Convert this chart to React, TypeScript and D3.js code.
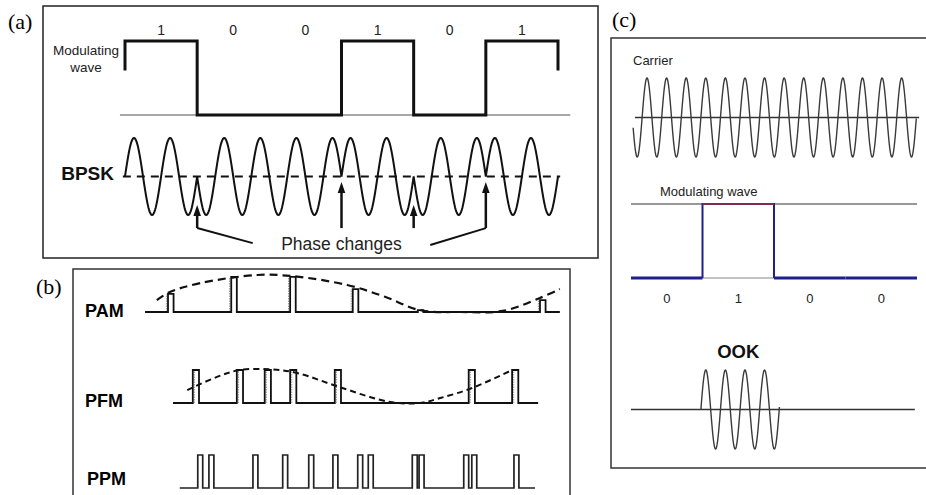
import React from "react";
import * as d3 from "d3";

const W = 926;
const H = 495;

// ---------- (a) BPSK ----------
const bpskBits = [1, 0, 0, 1, 0, 1];
const bpskCyclesPerBit = 2;
const bpskLabel = "BPSK";
const modLabelA = ["Modulating", "wave"];
const phaseLabel = "Phase changes";

// ---------- (b) pulse modulation ----------
// time in sampling periods, amplitude normalised to the envelope peak
const pamPulseTimes = [0, 1.02, 1.97, 2.98, 4.03, 5.0, 6.0];
const pamPulseAmps = [0.49, 0.95, 0.95, 0.62, 0.05, 0, 0.32];
const pamSpan = [-0.37, 6.32];
const pamEnvelope: [number, number][] = [
  [-0.18, 0.32], [0.03, 0.54], [0.52, 0.78], [1.44, 1.0], [2.0, 0.97],
  [2.89, 0.73], [3.5, 0.41], [4.06, 0.05], [4.71, 0], [5.4, 0.03],
  [6.0, 0.38], [6.32, 0.62],
];

const pfmPulseTimes = [0.4, 1.11, 1.56, 1.97, 2.69, 4.85, 5.55];
const pfmSpan = [0.08, 5.97];
const pfmEnvelope: [number, number][] = [
  [0.31, 0.39], [0.79, 0.79], [1.16, 1.0], [1.65, 1.02], [2.08, 0.91],
  [2.77, 0.48], [3.58, 0.03], [4.06, 0], [4.39, 0.15], [4.9, 0.45],
  [5.55, 1.0],
];

const ppmPulseTimes = [0.48, 0.66, 1.37, 1.85, 2.27, 2.66, 3.06, 3.23, 3.94, 4.05, 4.77, 4.9, 5.58];
const ppmSpan = [0.19, 5.92];

const rowLabelsB = ["PAM", "PFM", "PPM"];

// ---------- (c) OOK ----------
const ookBits = [0, 1, 0, 0];
const carrierCyclesPerBit = 3.65;
const carrierPeakAt = 0.224; // bit units
const carrierSpan = [0.03, 3.99];
const ookGate = [0.98, 2.08];

type P = [number, number];

function pulseTrain(span: number[], times: number[], amps: number[], w: number): P[] {
  const pts: P[] = [[span[0], 0]];
  times.forEach((t, i) => {
    pts.push([t, 0], [t, amps[i]], [t + w, amps[i]], [t + w, 0]);
  });
  pts.push([span[1], 0]);
  return pts;
}

const FONT = "'Liberation Sans', Arial, sans-serif";
const SERIF = "'Liberation Serif', 'Times New Roman', serif";

export default function App() {
  // ===== panel (a) =====
  const xa = d3.scaleLinear().domain([0, 6]).range([125, 558]);
  const yMod = d3.scaleLinear().domain([0, 1]).range([115, 41]);
  const yB = d3.scaleLinear().domain([-1, 1]).range([215, 138]);

  const modPts: P[] = [[0, 0.6]];
  bpskBits.forEach((b, i) => modPts.push([i, b], [i + 1, b]));
  modPts.push([bpskBits.length, 0.6]);
  const modLine = d3.line<P>().x(d => xa(d[0])).y(d => yMod(d[1]));

  const bpskPts: P[] = [];
  bpskBits.forEach((b, i) => {
    d3.range(0, 121).forEach(k => {
      const t = i + k / 120;
      bpskPts.push([t, (b ? 1 : -1) * Math.sin(2 * Math.PI * bpskCyclesPerBit * t)]);
    });
  });
  const bpskLine = d3.line<P>().x(d => xa(d[0])).y(d => yB(d[1]));

  const changes = d3.range(1, bpskBits.length).filter(i => bpskBits[i] !== bpskBits[i - 1]);
  const shaftEnd = yB(-1.34);
  const first = changes[0];
  const last = changes[changes.length - 1];

  // ===== panel (b) =====
  const xb = d3.scaleLinear().domain([0, 6]).range([168, 540]);
  const yPam = d3.scaleLinear().domain([0, 1]).range([312, 275]);
  const yPfm = d3.scaleLinear().domain([0, 1]).range([403, 370]);
  const yPpm = d3.scaleLinear().domain([0, 1]).range([488, 455]);

  const pamLine = d3.line<P>().x(d => xb(d[0])).y(d => yPam(d[1]));
  const pfmLine = d3.line<P>().x(d => xb(d[0])).y(d => yPfm(d[1]));
  const ppmLine = d3.line<P>().x(d => xb(d[0])).y(d => yPpm(d[1]));
  const pamEnv = d3.line<P>().curve(d3.curveCatmullRom.alpha(0.5)).x(d => xb(d[0])).y(d => yPam(d[1]));
  const pfmEnv = d3.line<P>().curve(d3.curveCatmullRom.alpha(0.5)).x(d => xb(d[0])).y(d => yPfm(d[1]));

  const pamPts = pulseTrain(pamSpan, pamPulseTimes, pamPulseAmps, 0.09);
  const pfmPts = pulseTrain(pfmSpan, pfmPulseTimes, pfmPulseTimes.map(() => 1), 0.1);
  const ppmPts = pulseTrain(ppmSpan, ppmPulseTimes, ppmPulseTimes.map(() => 1), 0.08);

  // ===== panel (c) =====
  const xc = d3.scaleLinear().domain([0, 4]).range([631, 917]);
  const yCar = d3.scaleLinear().domain([-1, 1]).range([157, 78]);
  const yModC = d3.scaleLinear().domain([0, 1]).range([278, 204]);
  const yOok = d3.scaleLinear().domain([-1, 1]).range([449, 370]);
  const carrier = (t: number) => Math.cos(2 * Math.PI * carrierCyclesPerBit * (t - carrierPeakAt));

  const carPts: P[] = d3.range(carrierSpan[0], carrierSpan[1], 0.004).map(t => [t, carrier(t)] as P);
  const carLine = d3.line<P>().x(d => xc(d[0])).y(d => yCar(d[1]));
  const ookPts: P[] = ([[ookGate[0], 0]] as P[]).concat(
    d3.range(ookGate[0], ookGate[1], 0.004).map(t => [t, carrier(t)] as P)
  );
  const ookLine = d3.line<P>().x(d => xc(d[0])).y(d => yOok(d[1]));

  const oneIdx = ookBits.indexOf(1);

  return (
    <svg width={W} height={H} style={{ position: "absolute", left: 0, top: 0, background: "#fff" }}
      xmlns="http://www.w3.org/2000/svg">
      <rect x={0} y={0} width={W} height={H} fill="#fff" />

      {/* ---------------- (a) ---------------- */}
      <text x={8} y={29} fontFamily={SERIF} fontSize={22}>(a)</text>
      <rect x={43} y={6} width={555} height={252} fill="none" stroke="#222" strokeWidth={1.5} />
      {bpskBits.map((b, i) => (
        <text key={i} x={xa(i + 0.5)} y={35} textAnchor="middle" fontFamily={FONT} fontSize={14} fill="#222">{b}</text>
      ))}
      <text x={86} y={55} textAnchor="middle" fontFamily={FONT} fontSize={13.5} fill="#222">{modLabelA[0]}</text>
      <text x={86} y={72} textAnchor="middle" fontFamily={FONT} fontSize={13.5} fill="#222">{modLabelA[1]}</text>
      <line x1={xa(-0.07)} x2={xa(6.17)} y1={yMod(0)} y2={yMod(0)} stroke="#8a8a8a" strokeWidth={1.3} />
      <path d={modLine(modPts) || ""} fill="none" stroke="#111" strokeWidth={3} strokeLinejoin="miter" />

      <text x={114} y={180} textAnchor="end" fontFamily={FONT} fontWeight="bold" fontSize={19} fill="#111">{bpskLabel}</text>
      <line x1={xa(-0.03)} x2={xa(6.03)} y1={yB(0)} y2={yB(0)} stroke="#111" strokeWidth={2} strokeDasharray="8,6" />
      <path d={bpskLine(bpskPts) || ""} fill="none" stroke="#111" strokeWidth={2} />

      {changes.map(i => {
        const x = xa(i);
        const tip = yB(bpskBits[i] ? -0.14 : -0.74);
        return (
          <g key={i}>
            <line x1={x} x2={x} y1={tip + 8} y2={shaftEnd} stroke="#111" strokeWidth={2.5} />
            <path d={`M${x},${tip}L${x - 3.8},${tip + 11}L${x + 3.8},${tip + 11}Z`} fill="#111" />
          </g>
        );
      })}
      <path d={`M${xa(first)},${shaftEnd}L${xa(1.77)},${yB(-1.73)}`} stroke="#111" strokeWidth={2} fill="none" />
      <path d={`M${xa(last)},${shaftEnd}L${xa(4.23)},${yB(-1.78)}`} stroke="#111" strokeWidth={2} fill="none" />
      <text x={xa(3)} y={yB(-1.9)} textAnchor="middle" fontFamily={FONT} fontSize={17.5} fill="#222">{phaseLabel}</text>

      {/* ---------------- (b) ---------------- */}
      <text x={36} y={294} fontFamily={SERIF} fontSize={22}>(b)</text>
      <rect x={73} y={269} width={497} height={240} fill="none" stroke="#333" strokeWidth={1.5} />
      <text x={85} y={317} fontFamily={FONT} fontWeight="bold" fontSize={18}>{rowLabelsB[0]}</text>
      <text x={85} y={407} fontFamily={FONT} fontWeight="bold" fontSize={18}>{rowLabelsB[1]}</text>
      <text x={87} y={485} fontFamily={FONT} fontWeight="bold" fontSize={18}>{rowLabelsB[2]}</text>

      {pamPulseTimes.map((t, i) =>
        pamPulseAmps[i] > 0.03 ? (
          <line key={i} x1={xb(t) - 1.6} x2={xb(t) - 1.6} y1={yPam(0)} y2={yPam(pamPulseAmps[i])}
            stroke="#999" strokeWidth={1} strokeDasharray="1.5,1" />
        ) : null
      )}
      {pfmPulseTimes.map((t, i) => (
        <line key={i} x1={xb(t) + 1.6} x2={xb(t) + 1.6} y1={yPfm(0)} y2={yPfm(1)}
          stroke="#999" strokeWidth={1} strokeDasharray="1.5,1" />
      ))}
      <path d={pamLine(pamPts) || ""} fill="none" stroke="#111" strokeWidth={1.8} />
      <path d={pamEnv(pamEnvelope) || ""} fill="none" stroke="#111" strokeWidth={2.2} strokeDasharray="8,5" />
      <path d={pfmLine(pfmPts) || ""} fill="none" stroke="#111" strokeWidth={1.8} />
      <path d={pfmEnv(pfmEnvelope) || ""} fill="none" stroke="#111" strokeWidth={2} strokeDasharray="6,4" />
      <path d={ppmLine(ppmPts) || ""} fill="none" stroke="#222" strokeWidth={1.7} />

      {/* ---------------- (c) ---------------- */}
      <text x={612} y={27} fontFamily={SERIF} fontSize={22}>(c)</text>
      <rect x={611} y={38} width={330} height={430} fill="none" stroke="#333" strokeWidth={1.5} />
      <text x={633} y={65} fontFamily={FONT} fontSize={13} fill="#222">Carrier</text>
      <line x1={xc(0.056)} x2={xc(4.03)} y1={yCar(0)} y2={yCar(0)} stroke="#333" strokeWidth={1.3} />
      <path d={carLine(carPts) || ""} fill="none" stroke="#3a3a3a" strokeWidth={1.4} />

      <text x={660} y={196} fontFamily={FONT} fontSize={13} fill="#222">Modulating wave</text>
      <line x1={xc(0)} x2={xc(4)} y1={yModC(1)} y2={yModC(1)} stroke="#333" strokeWidth={1.2} />
      <line x1={xc(oneIdx)} x2={xc(oneIdx + 1)} y1={yModC(0)} y2={yModC(0)} stroke="#888" strokeWidth={1.2} />
      {ookBits.map((b, i) =>
        b ? (
          <g key={i}>
            <path d={`M${xc(i)},${yModC(0)}V${yModC(1)}H${xc(i + 1)}V${yModC(0)}`} fill="none" stroke="#1f1f8f" strokeWidth={2} />
            <line x1={xc(i)} x2={xc(i + 1)} y1={yModC(1)} y2={yModC(1)} stroke="#a03048" strokeWidth={1.3} />
          </g>
        ) : (
          <line key={i} x1={xc(i)} x2={xc(i + 1)} y1={yModC(0)} y2={yModC(0)} stroke="#1f1f8f" strokeWidth={3} />
        )
      )}
      {ookBits.map((b, i) => (
        <text key={i} x={xc(i + 0.5)} y={303} textAnchor="middle" fontFamily={FONT} fontSize={13} fill="#222">{b}</text>
      ))}

      <text x={xc(1.5)} y={358} textAnchor="middle" fontFamily={FONT} fontWeight="bold" fontSize={18.5} fill="#111">OOK</text>
      <line x1={xc(0)} x2={xc(3.97)} y1={yOok(0)} y2={yOok(0)} stroke="#333" strokeWidth={1.3} />
      <path d={ookLine(ookPts) || ""} fill="none" stroke="#3a3a3a" strokeWidth={1.4} />
    </svg>
  );
}
